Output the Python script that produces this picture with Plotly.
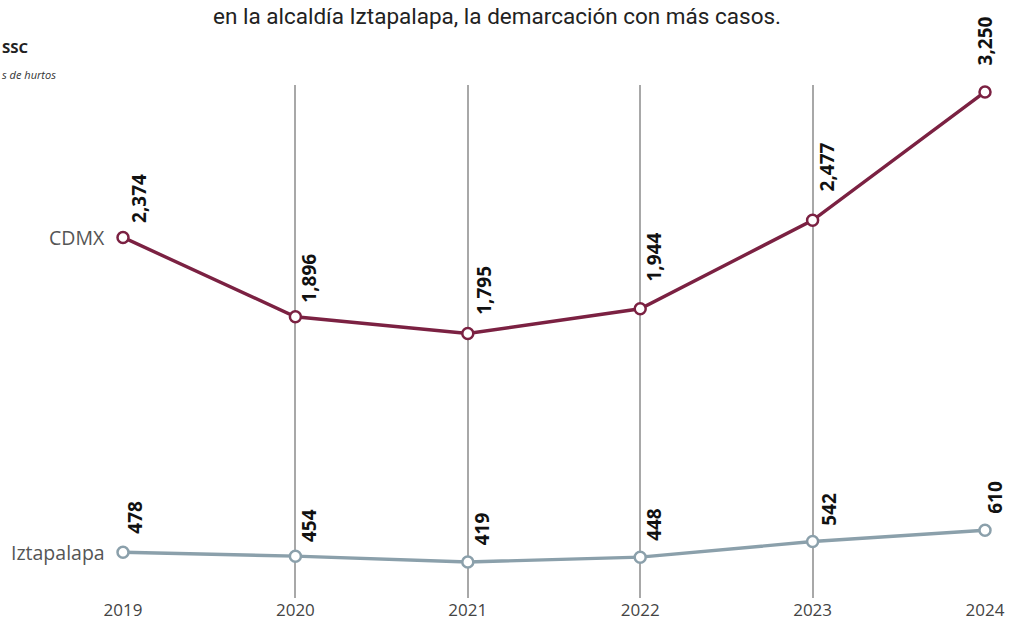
import plotly.graph_objects as go

years = [2019, 2020, 2021, 2022, 2023, 2024]
cdmx = [2374, 1896, 1795, 1944, 2477, 3250]
iztapalapa = [478, 454, 419, 448, 542, 610]
series_names = ["CDMX", "Iztapalapa"]
title_text = "en la alcaldía Iztapalapa, la demarcación con más casos."
source_text = "SSC"
unit_text = "s de hurtos"

# label offsets (styling only): (xshift, yshift, xanchor)
cdmx_offsets = [(16, 12, "center"), (14, 12, "center"), (16, 17, "center"), (14, 25, "center"), (14, 27, "center"), (0, 24, "center")]
izt_offsets = [(12, 16, "center"), (13, 12, "center"), (15, 15, "center"), (13, 14, "center"), (16, 14, "center"), (10, 14, "center")]

c_cdmx = "#7b2142"
c_izt = "#8ba0ab"

fig = go.Figure()
for vals, col in [(cdmx, c_cdmx), (iztapalapa, c_izt)]:
    fig.add_trace(go.Scatter(
        x=years, y=vals, mode="lines+markers",
        line=dict(color=col, width=3.4),
        marker=dict(symbol="circle", size=11, color="white", line=dict(color=col, width=2.5)),
        cliponaxis=False, hoverinfo="skip", showlegend=False,
    ))

anns = []
for vals, offs in [(cdmx, cdmx_offsets), (iztapalapa, izt_offsets)]:
    for x, v, (xs, ys, xa) in zip(years, vals, offs):
        anns.append(dict(
            x=x, y=v, xref="x", yref="y", text=f"{v:,}", showarrow=False,
            textangle=-90, xanchor=xa, yanchor="bottom", xshift=xs, yshift=ys,
            font=dict(family="Open Sans", size=19, color="#111", weight="bold"),
        ))

for name, vals in zip(series_names, [cdmx, iztapalapa]):
    anns.append(dict(
        x=years[0], y=vals[0], xref="x", yref="y", text=name, showarrow=False,
        xanchor="right", yanchor="middle", xshift=-16,
        font=dict(family="Open Sans", size=19.5, color="#555"),
    ))

W, H = 1013, 621
L, R, T, B = 123, 28, 85, 23
pw, ph = W - L - R, H - T - B
def px_to_paper(px, py):
    return (px - L) / pw, (H - B - py) / ph

tx, ty = px_to_paper(497, 1)
anns.append(dict(x=tx, y=ty, xref="paper", yref="paper", text=title_text, showarrow=False,
                 xanchor="center", yanchor="top",
                 font=dict(family="Roboto", size=22.5, color="#222")))
sx, sy = px_to_paper(0, 47)
anns.append(dict(x=sx, y=sy, xref="paper", yref="paper", text=source_text, showarrow=False,
                 xanchor="left", yanchor="middle",
                 font=dict(family="Open Sans", size=15, color="#222", weight="bold")))
ux, uy = px_to_paper(0, 75)
anns.append(dict(x=ux, y=uy, xref="paper", yref="paper", text=f"<i>{unit_text}</i>", showarrow=False,
                 xanchor="left", yanchor="middle",
                 font=dict(family="Open Sans", size=11, color="#333")))

fig.update_layout(
    width=W, height=H,
    margin=dict(l=L, r=R, t=T, b=B, autoexpand=False),
    paper_bgcolor="white", plot_bgcolor="white",
    annotations=anns,
    xaxis=dict(range=[2019, 2024], tickvals=years, ticktext=[str(y) for y in years],
               showgrid=True, gridcolor="#a8a8a8", gridwidth=1.5, zeroline=False,
               showline=False, ticks="", fixedrange=True, automargin=False,
               tickfont=dict(family="Open Sans", size=17, color="#444")),
    yaxis=dict(range=[202, 3292], showgrid=False, zeroline=False, showticklabels=False,
               showline=False, ticks="", fixedrange=True, automargin=False),
)

fig.write_html("out.html", config={"displayModeBar": False},
               post_script="document.body.style.margin='0';document.body.style.overflow='hidden';")
